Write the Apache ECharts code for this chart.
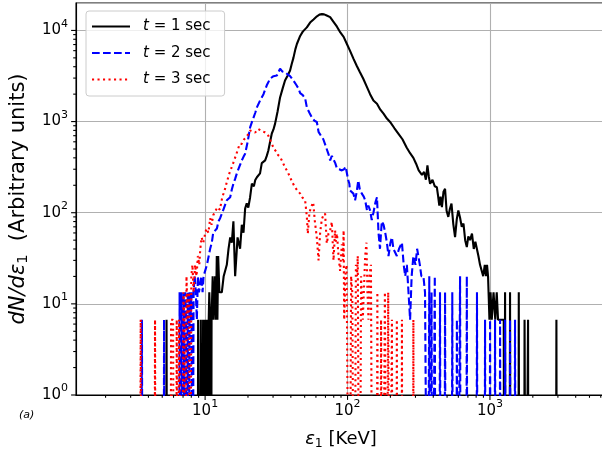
<!DOCTYPE html>
<html><head><meta charset="utf-8">
<script src="https://cdn.jsdelivr.net/npm/echarts@6/dist/echarts.min.js"></script>
<style>html,body{margin:0;padding:0;background:#fff}#c{width:602px;height:449px}</style>
</head><body><div id="c"></div>
<script>
const seriesNames = ['t = 1 sec', 't = 2 sec', 't = 3 sec'];

// [energy (KeV), dN/dε1]  — 0 means an empty bin
const t1 = [
[5.30,0],[5.36,6.7],[5.42,0],
[8.85,0],[8.93,6.7],[9.01,0],
[9.25,0],[9.33,6.7],[9.41,0],
[9.60,0],[9.68,6.7],[9.76,0],
[9.92,0],[10.0,6.7],[10.1,6.7],[10.2,0],
[10.33,6.7],[10.45,0],[10.6,6.7],[10.7,13.4],[10.85,6.7],[11.0,0],[11.1,6.7],[11.3,20.1],[11.45,6.7],[11.6,6.7],[11.75,20.1],[11.9,6.7],[12.08,33.5],[12.2,6.7],[12.35,33.5],[12.6,13.4],[13.1,13.4],[13.5,20.1],[14.2,26.8],[14.6,40.2],[15.0,53.6],[15.4,46.9],[15.8,80.4],[16.25,20.1],[16.9,53.6],[17.6,40.2],[18.1,73.7],[18.6,60.3],[19.1,111],[19.6,127],[20.1,114],[20.7,148],[21.3,208],[22.0,195],[22.5,228],[23.1,245],[23.7,235],[24.3,270],[25.0,350],[25.7,335],[26.4,375],[27.1,420],[27.8,482],[28.6,600],[29.4,740],[30.2,820],[31.0,950],[32.3,1300],[33.6,1840],[35.0,2300],[36.4,2820],[38.0,3200],[39.5,3630],[40.6,4300],[41.7,5000],[43.0,6200],[44.1,7100],[46.5,8700],[48.5,9700],[51.8,10800],[54.6,12200],[57.7,13200],[61.0,14300],[63.5,14900],[66.1,15100],[68.5,15000],[70.8,14700],[73.0,14300],[75.5,14000],[79.5,12500],[84.3,11000],[89.0,9500],[93.9,8500],[99.0,7100],[104,6000],[110,4900],[116,4100],[122,3500],[129,2950],[136,2450],[144,2000],[152,1700],[161,1570],[170,1350],[179,1220],[189,1080],[199,990],[213,850],[228,735],[243,640],[260,520],[275,450],[290,400],[303,345],[316,291],[323,291],[333,260],[345,280],[355,230],[364,330],[372,250],[380,208],[395,230],[410,195],[424,190],[433,150],[441,120],[450,150],[460,115],[472,170],[484,183],[496,105],[510,90],[523,110],[537,126],[553,75],[569,54],[585,85],[600,106],[617,88],[634,70],[652,76],[670,50],[688,42],[705,55],[725,50],[748,59],[770,40],[790,48],[811,46],[830,33.5],[852,26.8],[875,26.8],[897,20.1],[920,26.8],[940,20.1],[954,26.8],[970,20.1],[978,20.1],[992,6.7],[1010,13.4],[1030,6.7],[1060,13.4],[1090,6.7],[1116,13.4],[1140,6.7],[1163,6.7],[1200,6.7],[1250,6.7],[1262,0],
[1277,13.4],[1290,0],
[1372,0],[1384,13.4],[1396,0],
[1580,0],[1594,13.4],[1608,0],
[1735,0],[1750,6.7],[1762,6.7],[1774,6.7],[1786,0],
[1838,0],[1852,6.7],[1866,0],
[2900,0],[2929,6.7],[2955,0]
];

const t2 = [
[3.55,0],[3.60,6.7],[3.65,0],
[5.10,0],[5.15,6.7],[5.20,0],
[6.55,0],[6.62,13.4],[6.70,0],[6.80,13.4],[6.88,6.7],[6.96,0],[7.05,13.4],[7.14,0],[7.25,13.4],[7.35,6.7],[7.45,0],[7.55,13.4],[7.65,0],[7.78,13.4],[7.90,6.7],[8.02,13.4],[8.15,0],[8.30,13.4],[8.45,20.1],[8.60,13.4],[8.75,6.7],[8.90,20.1],[9.05,13.4],[9.22,13.4],[9.40,20.1],[9.60,13.4],[9.75,20.1],[10.0,20.1],[10.3,26.8],[10.55,26.8],[10.85,40.2],[11.14,46.9],[11.4,60.3],[11.75,60.3],[12.1,67],[12.4,80.4],[12.75,87],[13.1,90],[13.4,107],[13.8,102],[14.2,137],[14.6,134],[15.0,148],[15.4,180],[15.8,208],[16.25,235],[16.7,270],[17.4,320],[18.1,375],[18.6,410],[19.1,443],[19.9,600],[20.7,865],[21.6,1050],[22.5,1250],[23.1,1430],[24.3,1700],[25.7,2000],[27.1,2500],[28.6,2960],[30.2,3150],[31.9,3200],[33.6,3800],[34.8,3550],[35.6,3650],[36.4,3480],[38.0,3300],[39.5,3150],[40.6,3070],[41.7,2820],[43.5,2550],[45.3,2300],[46.5,2050],[48.5,1950],[50.4,1800],[51.8,1430],[54.0,1250],[56.3,1100],[58.6,1020],[60.9,990],[62.6,770],[65.0,700],[67.6,640],[70.5,530],[73.5,440],[75.5,375],[77.6,420],[79.7,425],[82.0,350],[84.3,305],[87.5,300],[91.2,291],[94.5,300],[97.0,320],[98.9,315],[101,230],[103,208],[104,176],[107,180],[110,162],[113,137],[116,170],[119,226],[122,180],[126,162],[130,150],[133,137],[137,106],[140,120],[144,106],[148,83],[152,100],[157,130],[161,148],[165,60.3],[169,40.2],[174,80.4],[179,73.7],[184,60.3],[189,46.9],[194,33.5],[200,46.9],[205,53.6],[210,40.2],[216,40.2],[222,33.5],[230,40.2],[241,46.9],[248,26.8],[254,20.1],[261,26.8],[268,13.4],[275,6.7],[282,20.1],[290,33.5],[300,26.8],[308,40.2],[315,40.2],[322,26.8],[330,20.1],[341,20.1],[350,13.4],[360,13.4],[366,0],
[370,0],[375,20.1],[380,0],
[385,0],[389,13.4],[394,0],
[405,0],[410,20.1],[415,0],
[440,0],[446,13.4],[452,0],
[478,0],[484,13.4],[490,0],
[537,0],[544,13.4],[551,0],
[579,0],[586,6.7],[593,0],
[610,0],[617,20.1],[624,0],
[680,0],[688,20.1],[696,0],
[802,0],[811,13.4],[820,0],
[914,0],[924,6.7],[934,0],
[991,0],[1002,6.7],[1013,0],
[1074,0],[1086,6.7],[1098,0],
[1165,0],[1178,6.7],[1191,0],
[1263,0],[1277,6.7],[1291,0],
[1369,0],[1384,6.7],[1399,0],
[1484,0],[1500,6.7],[1516,0]
];

const t3 = [
[3.48,0],[3.53,6.7],[3.58,0],
[4.40,0],[4.45,6.7],[4.50,0],
[5.70,0],[5.77,6.7],[5.86,6.7],[5.96,6.7],[6.04,0],
[6.24,0],[6.32,6.7],[6.40,0],
[6.50,0],[6.57,6.7],[6.68,6.7],[6.78,6.7],[6.88,0],
[6.96,0],[7.04,13.4],[7.15,6.7],[7.28,0],[7.40,20.1],[7.55,6.7],[7.70,13.4],[7.85,0],[8.0,20.1],[8.15,26.8],[8.3,13.4],[8.5,26.8],[8.7,20.1],[8.9,33.5],[9.1,26.8],[9.25,40.2],[9.45,53.6],[9.7,46.9],[10.0,46.9],[10.2,67],[10.55,60.3],[10.85,87],[11.1,73.7],[11.4,93.8],[11.75,90],[12.2,115],[12.7,108],[13.2,148],[13.7,175],[14.1,208],[14.8,270],[15.7,345],[16.6,443],[17.5,570],[18.1,570],[18.8,640],[19.6,680],[20.7,800],[21.6,780],[22.5,760],[23.6,830],[24.3,830],[25.0,790],[25.7,800],[26.4,760],[27.8,700],[29.4,570],[30.4,505],[31.5,470],[32.5,430],[33.6,410],[35.0,360],[36.4,315],[38.0,280],[39.5,245],[41.0,215],[42.8,190],[44.5,175],[46.5,162],[48.0,148],[50.4,137],[51.8,90],[52.6,59],[54.0,100],[55.4,115],[57.4,130],[59.0,80],[60.8,54],[62.6,30],[64.2,60],[66.0,85],[67.6,93],[69.6,98],[71.5,46],[73.5,59],[75.5,64],[77.6,79],[79.7,30],[81.8,64],[82.5,48],[84.3,59],[86.5,33],[88.7,23],[91.2,45],[93.0,30],[93.9,64],[94.7,6.7],[96.5,20.1],[98.5,26.8],[101.5,26.8],[103,0],
[104.5,0],[106,20.1],[108,13.4],[110,13.4],[111.5,0],
[113,0],[114.5,26.8],[116.5,20.1],[118,33.5],[120,33.5],[121.5,0],
[123,0],[124.5,20.1],[126,20.1],[128,6.7],[131,6.7],[133,33.5],[135.8,46.9],[138,13.4],[140.4,6.7],[142.5,20.1],[146,26.8],[148,26.8],[150,0],
[160,0],[162,13.4],[164,0],
[170,0],[172,6.7],[174,6.7],[176,0],
[181,0],[183,13.4],[186,13.4],[188,0],
[191,0],[193,13.4],[195,13.4],[197,0],
[203,0],[205,6.7],[207,0],
[220,0],[222,6.7],[224,0],
[239,0],[241,6.7],[243,0],
[287,0],[290,6.7],[293,0]
];

const xMajorTicks = [10, 100, 1000];
const xMinorTicks = [2,3,4,5,6,7,8,9,20,30,40,50,60,70,80,90,200,300,400,500,600,700,800,900,2000,3000,4000,5000,6000];
const yMajorTicks = [1, 10, 100, 1000, 10000];
const yMinorTicks = [2,3,4,5,6,7,8,9,20,30,40,50,60,70,80,90,200,300,400,500,600,700,800,900,2000,3000,4000,5000,6000,7000,8000,9000];

const X_MIN = 1.24, X_MAX = 6530, Y_MIN = 1, Y_MAX = 20000;
const EMPTY = 1e-3; // empty bins fall below the axis (clipped), like log(0)
const FONT = 'DejaVu Sans';

function prep(d) { return d.map(p => [p[0], p[1] > 0 ? p[1] : EMPTY]); }

function decadeLabel(v) {
  const l = Math.log10(v);
  const n = Math.round(l);
  if (Math.abs(l - n) > 1e-6) return '';
  return '10{sup|' + n + '}';
}

function tickSeries(values, axis, len) {
  return {
    type: 'custom', silent: true, clip: false, z: 10, animation: false,
    data: values.map(v => axis === 'x' ? [v, Y_MIN] : [X_MIN, v]),
    renderItem: function (params, api) {
      const p = api.coord([api.value(0), api.value(1)]);
      const shape = axis === 'x'
        ? { x1: p[0], y1: p[1], x2: p[0], y2: p[1] + len }
        : { x1: p[0] - len, y1: p[1], x2: p[0], y2: p[1] };
      return { type: 'line', shape: shape, style: { stroke: '#000', lineWidth: 1.1 } };
    }
  };
}

const labelStyle = {
  formatter: decadeLabel, fontFamily: FONT, fontSize: 15, color: '#000', lineHeight: 24,
  rich: { sup: { fontFamily: FONT, fontSize: 11, lineHeight: 11, verticalAlign: 'top', color: '#000' } }
};

function lineSeries(name, data, color, dash, z) {
  const ls = { color: color, width: 2.1 };
  if (dash) ls.type = dash;
  return { name: name, type: 'line', data: prep(data), symbol: 'circle', symbolSize: 4, showSymbol: false,
    clip: true, z: z, lineStyle: ls, itemStyle: { color: color } };
}

const chart = echarts.init(document.getElementById('c'), null, { renderer: 'canvas' });
chart.setOption({
  animation: false,
  backgroundColor: '#fff',
  grid: { left: 76, top: 3, width: 530, height: 392, containLabel: false, outerBoundsMode: 'none',
    show: true, borderColor: '#000', borderWidth: 1.1, backgroundColor: 'transparent' },
  xAxis: {
    type: 'log', logBase: 10, min: X_MIN, max: X_MAX,
    axisLine: { show: true, onZero: false, lineStyle: { color: '#000', width: 1.1 } },
    axisTick: { show: false }, minorTick: { show: false }, minorSplitLine: { show: false },
    splitLine: { show: true, lineStyle: { color: '#b0b0b0', width: 1.1 } },
    axisLabel: Object.assign({ margin: 4 }, labelStyle),
    name: '{it|ε}{sub|1} [KeV]', nameLocation: 'middle', nameGap: 20,
    nameTextStyle: {
      fontFamily: FONT, fontSize: 18, color: '#000', lineHeight: 22,
      rich: {
        it: { fontFamily: FONT, fontStyle: 'italic', fontSize: 18, lineHeight: 22, color: '#000' },
        sub: { fontFamily: FONT, fontSize: 12.5, lineHeight: 12, verticalAlign: 'bottom', color: '#000' }
      }
    }
  },
  yAxis: {
    type: 'log', logBase: 10, min: Y_MIN, max: Y_MAX,
    axisLine: { show: true, onZero: false, lineStyle: { color: '#000', width: 1.1 } },
    axisTick: { show: false }, minorTick: { show: false }, minorSplitLine: { show: false },
    splitLine: { show: true, lineStyle: { color: '#b0b0b0', width: 1.1 } },
    axisLabel: Object.assign({ margin: 8 }, labelStyle),
    name: '{it|dN/dε}{sub|1}  (Arbitrary units)', nameLocation: 'middle', nameGap: 39,
    nameTextStyle: {
      fontFamily: FONT, fontSize: 21, color: '#000', lineHeight: 24,
      rich: {
        it: { fontFamily: FONT, fontStyle: 'italic', fontSize: 21, lineHeight: 24, color: '#000' },
        sub: { fontFamily: FONT, fontSize: 14.5, lineHeight: 13, verticalAlign: 'bottom', color: '#000' }
      }
    }
  },
  legend: {
    data: seriesNames, orient: 'vertical', left: 86, top: 11,
    padding: [8, 14, 9, 5], itemGap: 11.5, itemWidth: 38, itemHeight: 14,
    borderColor: '#cccccc', borderWidth: 1, borderRadius: 3, backgroundColor: 'rgba(255,255,255,0.8)',
    selectedMode: false,
    itemStyle: { opacity: 0 },
    formatter: name => '{it|t}' + name.slice(1),
    textStyle: {
      fontFamily: FONT, fontSize: 15, color: '#000', padding: [0, 0, 0, 8],
      rich: { it: { fontFamily: FONT, fontStyle: 'italic', fontSize: 15, color: '#000' } }
    }
  },
  graphic: [{ type: 'text', left: 19, top: 410, style: { text: '(a)', fill: '#000', font: 'italic 11px "DejaVu Sans"' } }],
  series: [
    lineSeries(seriesNames[0], t1, '#000000', null, 2),
    lineSeries(seriesNames[1], t2, '#0000ff', [7.7, 3.3], 3),
    lineSeries(seriesNames[2], t3, '#ff0000', [2.1, 3.4], 4),
    tickSeries(xMajorTicks, 'x', 4.9),
    tickSeries(xMinorTicks, 'x', 2.8),
    tickSeries(yMajorTicks, 'y', 4.9),
    tickSeries(yMinorTicks, 'y', 2.8)
  ]
});
</script>
</body></html>
